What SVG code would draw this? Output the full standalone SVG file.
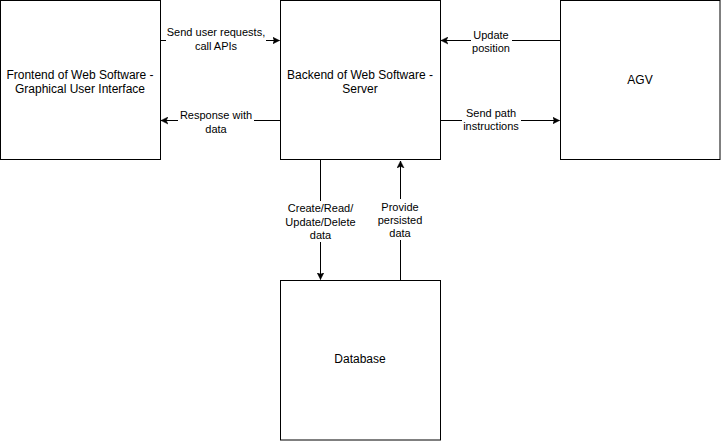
<svg xmlns="http://www.w3.org/2000/svg" width="721" height="441" viewBox="0 0 721 441">
<style>
.box{fill:#fff;stroke:#000;stroke-width:1}
.t{font-family:"Liberation Sans",Arial,sans-serif;font-size:12px;fill:#000;text-anchor:middle}
.l{font-family:"Liberation Sans",Arial,sans-serif;font-size:11px;fill:#000;text-anchor:middle}
.c{fill:none;stroke:#000;stroke-width:1}
.bg{fill:#fff}
</style>
<defs>
<marker id="a" markerWidth="8" markerHeight="8" refX="7" refY="4" orient="auto" markerUnits="userSpaceOnUse">
<path d="M0,0.5 L7,4 L0,7.5 L1.8,4 Z" fill="#000" stroke="#000" stroke-width="0.5"/>
</marker>
</defs>
<rect width="721" height="441" fill="#fff"/>
<g id="frontend"><rect class="box" x="0.5" y="0.5" width="160" height="159"/><text class="t" x="80" y="79">Frontend of Web Software -</text><text class="t" x="80" y="93">Graphical User Interface</text></g>
<g id="backend"><rect class="box" x="280.5" y="0.5" width="160" height="159"/><text class="t" x="360" y="79">Backend of Web Software -</text><text class="t" x="360" y="93">Server</text></g>
<g id="agv"><rect class="box" x="560.5" y="0.5" width="159.5" height="159"/><text class="t" x="640" y="84">AGV</text></g>
<g id="database"><rect class="box" x="280.5" y="280.5" width="160" height="159.5"/><text class="t" x="360" y="363">Database</text></g>
<g id="connectors">
<path class="c" d="M160.5,40.5 H279.5" marker-end="url(#a)"/>
<rect class="bg" x="166" y="26" width="100" height="27"/>
<text class="l" x="216" y="36">Send user requests,</text><text class="l" x="216" y="50">call APIs</text>
<path class="c" d="M280.5,120.5 H161" marker-end="url(#a)"/>
<rect class="bg" x="178" y="109" width="76" height="27"/>
<text class="l" x="216" y="119">Response with</text><text class="l" x="216" y="133">data</text>
<path class="c" d="M560.5,40.5 H441" marker-end="url(#a)"/>
<rect class="bg" x="471" y="29" width="41" height="27"/>
<text class="l" x="491" y="39">Update</text><text class="l" x="491" y="52">position</text>
<path class="c" d="M440.5,120.5 H559.5" marker-end="url(#a)"/>
<rect class="bg" x="462" y="107" width="59" height="27"/>
<text class="l" x="491" y="117">Send path</text><text class="l" x="491" y="130">instructions</text>
<path class="c" d="M320.5,160 V279.5" marker-end="url(#a)"/>
<rect class="bg" x="284" y="201" width="73" height="41"/>
<text class="l" x="320.5" y="212">Create/Read/</text><text class="l" x="320.5" y="226">Update/Delete</text><text class="l" x="320.5" y="239">data</text>
<path class="c" d="M400.5,280 V161" marker-end="url(#a)"/>
<rect class="bg" x="376" y="199" width="48" height="41"/>
<text class="l" x="400" y="211">Provide</text><text class="l" x="400" y="224">persisted</text><text class="l" x="400" y="237">data</text>
</g>
</svg>
